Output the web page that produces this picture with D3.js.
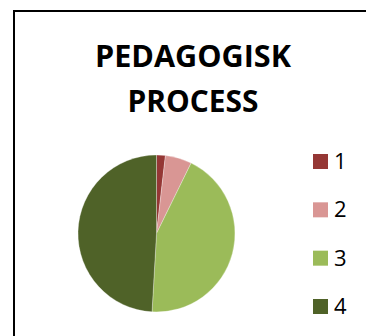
<!DOCTYPE html>
<html>
<head>
<meta charset="utf-8">
<script src="https://cdn.jsdelivr.net/npm/d3@7"></script>
<style>
  html, body { margin: 0; padding: 0; background: #fff; }
  svg { display: block; }
</style>
</head>
<body>
<svg id="chart" width="366" height="336"></svg>
<script>
// Data
const titleLines = ["PEDAGOGISK", "PROCESS"];
const categories = ["1", "2", "3", "4"];
const values = [1, 3, 24, 27];
const colors = ["#953735", "#D99694", "#9BBB59", "#4F6228"];

const svg = d3.select("#chart");

// Chart frame (top and left edges visible)
svg.append("rect")
  .attr("x", 14).attr("y", 11)
  .attr("width", 400).attr("height", 400)
  .attr("fill", "#fff")
  .attr("stroke", "#000")
  .attr("stroke-width", 2);

// Title
const titleWidths = [196, 131];
svg.append("g").selectAll("text")
  .data(titleLines)
  .join("text")
  .attr("x", 193)
  .attr("y", (d, i) => 67 + i * 45)
  .attr("text-anchor", "middle")
  .attr("font-family", "'Open Sans', 'Liberation Sans', sans-serif")
  .attr("font-weight", "bold")
  .attr("font-size", 30.5)
  .attr("textLength", (d, i) => titleWidths[i])
  .attr("lengthAdjust", "spacingAndGlyphs")
  .attr("fill", "#000")
  .text(d => d);

// Pie
const cx = 156.5, cy = 233.5, radius = 78.5;
const pie = d3.pie().sort(null).value(d => d);
const arc = d3.arc().innerRadius(0).outerRadius(radius);
const color = d3.scaleOrdinal().domain(categories).range(colors);

svg.append("g")
  .attr("transform", `translate(${cx},${cy})`)
  .selectAll("path")
  .data(pie(values))
  .join("path")
  .attr("d", arc)
  .attr("fill", (d, i) => color(categories[i]))
  .attr("stroke", "#fff")
  .attr("stroke-width", 0.5)
  .attr("stroke-opacity", 0.6);

// Legend
const legendY = d3.scalePoint().domain(categories).range([154, 299]);
const legend = svg.append("g").selectAll("g")
  .data(categories)
  .join("g")
  .attr("transform", d => `translate(313,${legendY(d)})`);

legend.append("rect")
  .attr("width", 15).attr("height", 15)
  .attr("fill", d => color(d));

legend.append("text")
  .attr("x", 21)
  .attr("y", 15)
  .attr("font-family", "'Open Sans', 'Liberation Sans', sans-serif")
  .attr("font-size", 22)
  .attr("fill", "#000")
  .text(d => d);
</script>
</body>
</html>
